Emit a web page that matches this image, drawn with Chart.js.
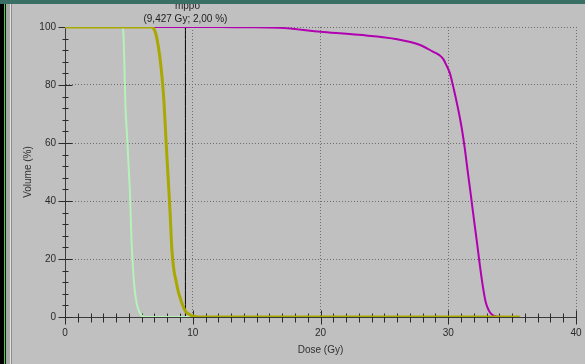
<!DOCTYPE html>
<html>
<head>
<meta charset="utf-8">
<script src="https://cdn.jsdelivr.net/npm/chart.js@4/dist/chart.umd.min.js"></script>
<style>
html, body { margin:0; padding:0; background:#c0c0c0; }
#wrap { position:relative; width:585px; height:364px; overflow:hidden; background:#c0c0c0; }
#topbar { position:absolute; left:0; top:0; width:585px; height:4px; background:#3a6f66; z-index:3; }
#edge { position:absolute; left:0; top:0; width:12px; height:364px; z-index:2;
  background:linear-gradient(to right, #000 0 4px, #3fd24a 4px 5px, #101010 5px 6px, #a9a9a9 6px 10px, #e4e4e4 10px 11px, #8c8c8c 11px 12px); }
canvas { position:absolute; left:0; top:0; }
</style>
</head>
<body>
<div id="wrap">
  <canvas id="dvh" width="585" height="364"></canvas>
  <div id="edge"></div>
  <div id="topbar"></div>
</div>
<script>
// dose volume histogram


// tick labels
const doseLabels = [0, 10, 20, 30, 40];
const volumeLabels = [0, 20, 40, 60, 80, 100];

// olive curve
const oliveDose =   [0, 6.81, 6.96, 7.12, 7.28, 7.43, 7.59, 7.75, 7.90, 8.06, 8.22, 8.37, 8.53, 8.69, 8.84, 9.00, 9.15, 9.31, 9.43, 9.62, 9.86, 10.17, 10.56, 35.6];
const oliveVolume = [100, 100, 99.3, 97.5, 94, 89.5, 83, 74, 61.5, 49, 36.5, 23, 16, 12.5, 9.3, 6.8, 4.8, 3.0, 2.0, 1.2, 0.6, 0.2, 0, 0];

// light green curve
const greenDose =   [0, 4.50, 4.58, 4.66, 4.73, 4.85, 4.97, 5.09, 5.20, 5.32, 5.44, 5.56, 5.71, 5.87, 6.03, 6.18, 12];
const greenVolume = [100, 100, 97, 85, 73, 63, 53, 42, 27, 17, 10, 6, 3, 1.3, 0.4, 0, 0];

// magenta curve
const magentaDose =   [0, 12, 14, 16.8, 20, 23, 26, 27.8, 28.8, 29.3, 29.6, 29.89, 30.13, 30.36, 30.59, 30.83, 31.06, 31.30, 31.53, 31.77, 32.00, 32.24, 32.47, 32.71, 32.94, 33.18, 33.41, 33.72, 34.04];
const magentaVolume = [100, 100, 99.9, 99.7, 98.4, 97.3, 95.8, 93.8, 91.5, 90.3, 89, 86.5, 84, 80, 75.5, 70.5, 65, 58, 50, 42, 34, 26, 18, 10.5, 5, 2.2, 0.9, 0.2, 0];

// cursor
const markerName = "mppo";
const markerDose = 9.427;
const markerVolume = 2.00;


function toPoints(xs, ys){
    return xs.map((x, i) => ({x: x, y: ys[i]}));
}

function comma(v, d){
    return v.toFixed(d).replace(".", ",");
}


let font = {family: "'Liberation Sans', Arial, sans-serif", size: 10};


// crossing tick marks like the original viewer
let crossTicks = {
    id: "crossTicks",
    beforeDatasetsDraw(chart){
        let ctx = chart.ctx;
        let xs = chart.scales.x;
        let ys = chart.scales.y;
        let y0 = Math.round(ys.getPixelForValue(0)) + 0.5;
        let x0 = Math.round(xs.getPixelForValue(0)) + 0.5;
        ctx.save();
        ctx.strokeStyle = "#2a2a2a";
        ctx.lineWidth = 1;
        xs.ticks.forEach(t => {
            let px = Math.round(xs.getPixelForValue(t.value)) + 0.5;
            let major = doseLabels.includes(Math.round(t.value));
            ctx.beginPath();
            ctx.moveTo(px, y0 - (major ? 7 : 4));
            ctx.lineTo(px, y0 + (major ? 7 : 5));
            ctx.stroke();
        });
        ys.ticks.forEach(t => {
            let py = Math.round(ys.getPixelForValue(t.value)) + 0.5;
            let major = volumeLabels.includes(Math.round(t.value));
            ctx.beginPath();
            ctx.moveTo(x0 - (major ? 7 : 3), py);
            ctx.lineTo(x0 + (major ? 7 : 3), py);
            ctx.stroke();
        });
        ctx.restore();
    },
    afterDraw(chart){
        let ctx = chart.ctx;
        let px = chart.scales.x.getPixelForValue(markerDose);
        ctx.save();
        ctx.fillStyle = "#202020";
        ctx.font = "10px 'Liberation Sans', Arial, sans-serif";
        ctx.textAlign = "center";
        ctx.textBaseline = "middle";
        ctx.fillText(markerName, px + 2, 6);
        ctx.fillText("(" + comma(markerDose, 3) + " Gy; " + comma(markerVolume, 2) + " %)", px, 19);
        ctx.restore();
    }
};


new Chart(
    document.getElementById("dvh"),
    {
        type: "line",
        data: {
            datasets: [
                {
                    data: toPoints(oliveDose, oliveVolume),
                    borderColor: "#a9a800",
                    borderWidth: 3,
                    order: 0
                },
                {
                    data: toPoints(magentaDose, magentaVolume),
                    borderColor: "#b000b0",
                    borderWidth: 2,
                    order: 1
                },
                {
                    data: toPoints(greenDose, greenVolume),
                    borderColor: "#b4f2b8",
                    borderWidth: 2,
                    order: 2
                },
                {
                    data: [{x: markerDose, y: 0}, {x: markerDose, y: 100}],
                    borderColor: "#000000",
                    borderWidth: 1,
                    order: 3
                }
            ]
        },
        options: {
            responsive: false,
            animation: false,
            layout: {padding: {left: 12, top: 27, right: 9, bottom: 0}},
            elements: {
                point: {radius: 0},
                line: {cubicInterpolationMode: "monotone", fill: false}
            },
            plugins: {
                legend: {display: false},
                tooltip: {enabled: false}
            },
            scales: {
                x: {
                    type: "linear",
                    min: 0,
                    max: 40,
                    afterFit: s => {
                        s.height = 47;
                        s.paddingLeft = 0;
                        s.paddingRight = 0;
                    },
                    ticks: {
                        stepSize: 1,
                        autoSkip: false,
                        maxRotation: 0,
                        padding: 10,
                        color: "#2a2a2a",
                        font: font,
                        callback: v => doseLabels.includes(Math.round(v)) ? String(Math.round(v)) : ""
                    },
                    grid: {
                        drawTicks: false,
                        lineWidth: 1,
                        color: c => (c.tick && c.tick.value > 0 && doseLabels.includes(Math.round(c.tick.value))) ? "#6e6e6e" : "transparent"
                    },
                    border: {display: true, color: "#3a3a3a", width: 1, dash: [1, 2]},
                    title: {
                        display: true,
                        text: "Dose (Gy)",
                        color: "#303030",
                        font: font,
                        padding: {top: 4, bottom: 8}
                    }
                },
                y: {
                    min: 0,
                    max: 100,
                    afterFit: s => {
                        s.width = 53;
                        s.paddingTop = 0;
                        s.paddingBottom = 0;
                    },
                    ticks: {
                        stepSize: 4,
                        autoSkip: false,
                        padding: 9,
                        color: "#2a2a2a",
                        font: font,
                        callback: v => volumeLabels.includes(Math.round(v)) ? String(Math.round(v)) : ""
                    },
                    grid: {
                        drawTicks: false,
                        lineWidth: 1,
                        color: c => (c.tick && c.tick.value > 0 && volumeLabels.includes(Math.round(c.tick.value))) ? "#6e6e6e" : "transparent"
                    },
                    border: {display: true, color: "#3a3a3a", width: 1, dash: [1, 2]},
                    title: {
                        display: true,
                        text: "Volume (%)",
                        color: "#303030",
                        font: font,
                        padding: {top: 10, bottom: 4}
                    }
                }
            }
        },
        plugins: [crossTicks]
    }
);
</script>
</body>
</html>
